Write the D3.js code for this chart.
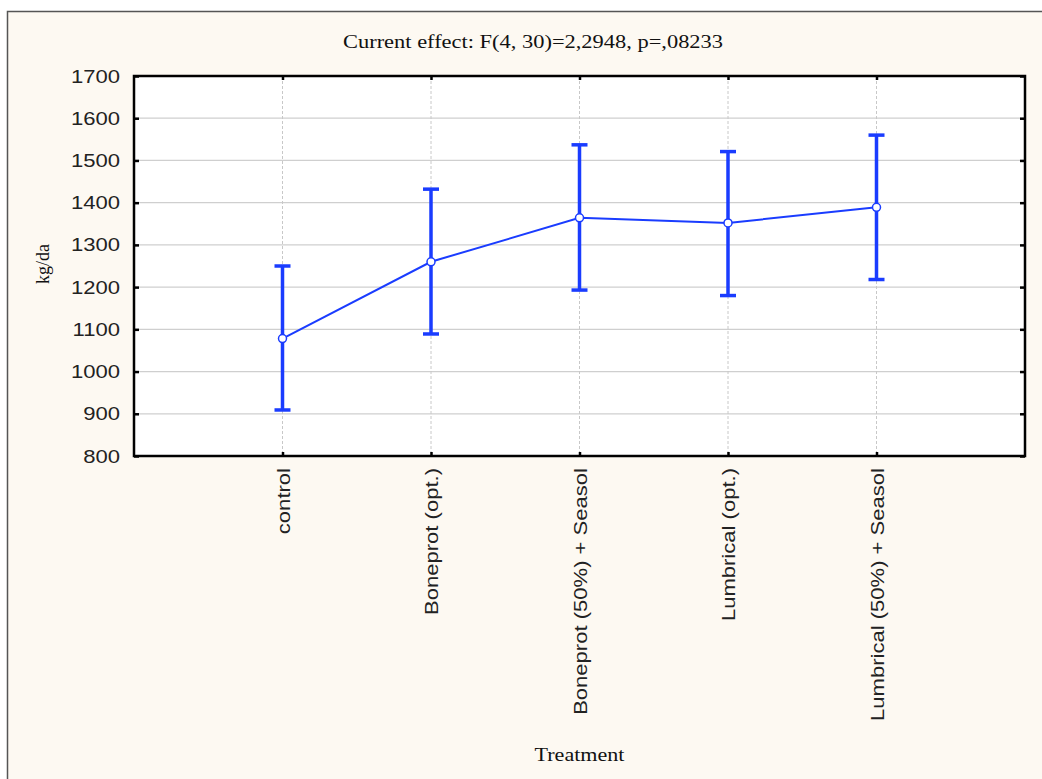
<!DOCTYPE html>
<html>
<head>
<meta charset="utf-8">
<script src="https://cdn.jsdelivr.net/npm/d3@7"></script>
<style>
  body { margin: 0; background: #ffffff; }
  svg { display: block; }
</style>
</head>
<body>
<svg id="chart" width="1042" height="779"></svg>
<script>
// ---- data ----
const categories = ["control", "Boneprot (opt.)", "Boneprot (50%) + Seasol", "Lumbrical (opt.)", "Lumbrical (50%) + Seasol"];
const means = [1078, 1260, 1364, 1352, 1389];
const upper = [1250, 1432, 1537, 1521, 1560];
const lower = [909, 1089, 1193, 1180, 1218];
const yTicks = [800, 900, 1000, 1100, 1200, 1300, 1400, 1500, 1600, 1700];
const titleText = "Current effect: F(4, 30)=2,2948, p=,08233";
const yLabel = "kg/da";
const xLabel = "Treatment";

// ---- layout ----
const svg = d3.select("#chart");
const pLeft = 134, pRight = 1025, pTop = 76, pBottom = 456;
const W = pRight - pLeft, H = pBottom - pTop;
const blue = "#1a3cff";

// outer frame
svg.append("rect").attr("x", 7.5).attr("y", 11.5).attr("width", 1100).attr("height", 1000)
  .attr("fill", "#fdf9f2").attr("stroke", "#555").attr("stroke-width", 1.5);

const x = d3.scalePoint().domain(categories).range([0, W]).padding(1);
const y = d3.scaleLinear().domain([800, 1700]).range([H, 0]);

const g = svg.append("g").attr("transform", `translate(${pLeft},${pTop})`);

g.append("rect").attr("width", W).attr("height", H).attr("fill", "#ffffff");

// horizontal gridlines
g.append("g").selectAll("line").data(yTicks.slice(1, -1)).join("line")
  .attr("x1", 0).attr("x2", W).attr("y1", d => y(d)).attr("y2", d => y(d))
  .attr("stroke", "#cfcfcf").attr("stroke-width", 1.2);

// vertical dotted gridlines
g.append("g").selectAll("line").data(categories).join("line")
  .attr("x1", d => x(d)).attr("x2", d => x(d)).attr("y1", 0).attr("y2", H)
  .attr("stroke", "#c8c8c8").attr("stroke-width", 1).attr("stroke-dasharray", "3,2");

// axes with inward ticks
const yAxis = g.append("g").call(d3.axisLeft(y).tickValues(yTicks).tickSize(-5).tickPadding(14).tickFormat(d3.format("d")));
yAxis.select(".domain").remove();
yAxis.selectAll("line").attr("stroke", "#000").attr("stroke-width", 2.5);
yAxis.selectAll("text").attr("font-family", "'Liberation Sans', Arial, sans-serif")
  .attr("font-size", 19).attr("fill", "#222");

const yAxisR = g.append("g").attr("transform", `translate(${W},0)`)
  .call(d3.axisRight(y).tickValues(yTicks).tickSize(-5).tickFormat(""));
yAxisR.select(".domain").remove();
yAxisR.selectAll("line").attr("stroke", "#000").attr("stroke-width", 2.5);

const xAxisTop = g.append("g").call(d3.axisTop(x).tickSize(-4).tickFormat(""));
xAxisTop.select(".domain").remove();
xAxisTop.selectAll("line").attr("stroke", "#000").attr("stroke-width", 2.5);

const xAxis = g.append("g").attr("transform", `translate(0,${H})`)
  .call(d3.axisBottom(x).tickSize(-4).tickPadding(0));
xAxis.select(".domain").remove();
xAxis.selectAll("line").attr("stroke", "#000").attr("stroke-width", 2.5);
xAxis.selectAll("text")
  .attr("font-family", "'Liberation Sans', Arial, sans-serif").attr("font-size", 19).attr("fill", "#222")
  .attr("text-anchor", "end").attr("dy", "0.35em")
  .attr("transform", "translate(0,12) rotate(-90)")
  .attr("x", 0).attr("y", 0);

// stretch the sans labels along their text direction
g.selectAll(".tick text").each(function() {
  const len = this.getComputedTextLength();
  if (len > 0) d3.select(this).attr("textLength", len * 1.16).attr("lengthAdjust", "spacingAndGlyphs");
});

// plot frame
g.append("rect").attr("width", W).attr("height", H).attr("fill", "none")
  .attr("stroke", "#000").attr("stroke-width", 2.5);

// error bars
const eb = g.append("g").selectAll("g").data(categories).join("g");
eb.append("line").attr("x1", d => x(d)).attr("x2", d => x(d))
  .attr("y1", (d, i) => y(upper[i])).attr("y2", (d, i) => y(lower[i]))
  .attr("stroke", blue).attr("stroke-width", 3.5);
eb.append("line").attr("x1", d => x(d) - 8).attr("x2", d => x(d) + 8)
  .attr("y1", (d, i) => y(upper[i])).attr("y2", (d, i) => y(upper[i]))
  .attr("stroke", blue).attr("stroke-width", 3.5);
eb.append("line").attr("x1", d => x(d) - 8).attr("x2", d => x(d) + 8)
  .attr("y1", (d, i) => y(lower[i])).attr("y2", (d, i) => y(lower[i]))
  .attr("stroke", blue).attr("stroke-width", 3.5);

// mean line
const line = d3.line().x((d, i) => x(categories[i])).y(d => y(d));
g.append("path").datum(means).attr("d", line).attr("fill", "none")
  .attr("stroke", blue).attr("stroke-width", 2);

g.append("g").selectAll("circle").data(means).join("circle")
  .attr("cx", (d, i) => x(categories[i])).attr("cy", d => y(d)).attr("r", 4)
  .attr("fill", "#fff").attr("stroke", blue).attr("stroke-width", 1.5);

// titles
const serif = "'Liberation Serif', 'Times New Roman', serif";
svg.append("text").attr("x", 533).attr("y", 48).attr("text-anchor", "middle")
  .attr("font-family", serif).attr("font-size", 19).attr("fill", "#111")
  .attr("textLength", 380).attr("lengthAdjust", "spacingAndGlyphs").text(titleText);

svg.append("text").attr("transform", "translate(49,264) rotate(-90)").attr("text-anchor", "middle")
  .attr("font-family", serif).attr("font-size", 18).attr("fill", "#111").text(yLabel);

svg.append("text").attr("x", pLeft + W / 2).attr("y", 761).attr("text-anchor", "middle")
  .attr("font-family", serif).attr("font-size", 18).attr("fill", "#111")
  .attr("textLength", 90).attr("lengthAdjust", "spacingAndGlyphs").text(xLabel);
</script>
</body>
</html>
